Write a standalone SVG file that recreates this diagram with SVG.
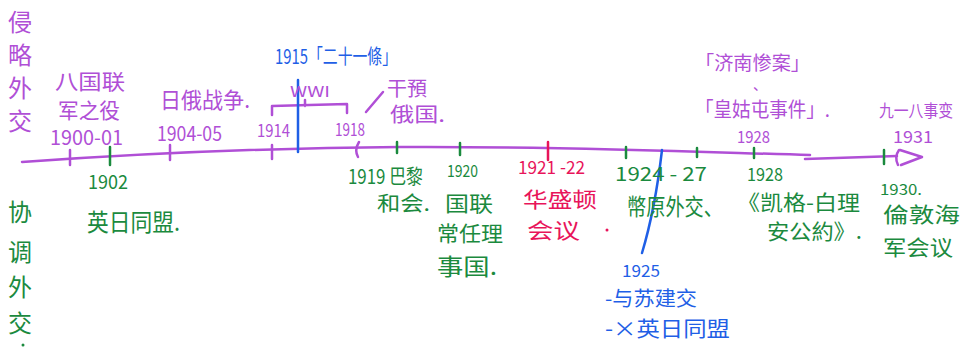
<svg xmlns="http://www.w3.org/2000/svg" width="965" height="349" viewBox="0 0 965 349">
<style>
text{font-family:"Noto Sans CJK SC","Noto Sans",sans-serif;}
.p{fill:#b04fd6}.g{fill:#1b8a3e}.b{fill:#1f5fe6}.r{fill:#e8145a}
.lp{stroke:#b04fd6;stroke-width:2.5;fill:none;stroke-linecap:round;stroke-linejoin:round}
.lg{stroke:#1b8a3e;stroke-width:2.5;fill:none;stroke-linecap:round}
.lb{stroke:#1f5fe6;stroke-width:2.5;fill:none;stroke-linecap:round}
.lr{stroke:#e8145a;stroke-width:2.5;fill:none;stroke-linecap:round}
</style>
<rect width="965" height="349" fill="#fff"/>
<g id="connectors">
<path class="lp" d="M22,162 C120,155 250,148 400,147 S700,152 810,155"/>
<path class="lp" d="M805,159 L897,156"/>
<path class="lp" d="M900,150 L922,157 L901,165"/>
<path class="lp" d="M899,150 Q894,157 898,165"/>
<path class="lp" d="M70,150 L70,165 M170,145 L170,160 M272,145 L272,159 M359,142 Q354,150 358,157"/>
<path class="lg" d="M110,147 L110,165 M397,142 L397,153 M460,143 L460,155 M626,147 L626,158 M697,148 L697,157 M754,148 L754,158 M884,150 L884,164"/>
<path class="lr" d="M548,142 L548,160"/>
<path class="lp" d="M272,115 L272,106 L347,104 L347,113 M305,100 L305,106"/>
<path class="lp" d="M366,112 L383,92"/>
<path class="lb" d="M298,80 L298,152"/>
<path class="lb" d="M662,150 Q655,210 642,253"/>
</g>
<g id="aggressive" class="p" font-size="24">
<text x="8" y="31">侵</text><text x="8" y="64">略</text><text x="8" y="97">外</text><text x="8" y="130">交</text>
</g>
<g id="cooperative" class="g" font-size="24">
<text x="8" y="221">协</text><text x="8" y="261">调</text><text x="8" y="296">外</text><text x="8" y="332">交</text>
<circle cx="23" cy="345" r="1.5"/>
</g>
<g id="e1900" class="p">
<text x="55" y="89" font-size="21" textLength="70" lengthAdjust="spacingAndGlyphs">八国联</text>
<text x="58" y="118" font-size="21" textLength="62" lengthAdjust="spacingAndGlyphs">军之役</text>
<text x="50" y="145" font-size="20" textLength="73" lengthAdjust="spacingAndGlyphs">1900-01</text>
</g>
<g id="e1902" class="g">
<text x="88" y="189" font-size="19" textLength="40" lengthAdjust="spacingAndGlyphs">1902</text>
<text x="87" y="231" font-size="24" textLength="93" lengthAdjust="spacingAndGlyphs">英日同盟.</text>
</g>
<g id="e1904" class="p">
<text x="160" y="108" font-size="22" textLength="90" lengthAdjust="spacingAndGlyphs">日俄战争.</text>
<text x="157" y="141" font-size="20" textLength="65" lengthAdjust="spacingAndGlyphs">1904-05</text>
</g>
<g id="wwi" class="p">
<text x="290" y="97" font-size="15" textLength="40" lengthAdjust="spacingAndGlyphs">WWI</text>
<text x="257" y="137" font-size="18" textLength="33" lengthAdjust="spacingAndGlyphs">1914</text>
<text x="335" y="136" font-size="18" textLength="30" lengthAdjust="spacingAndGlyphs">1918</text>
</g>
<g id="e1915" class="b">
<text x="275" y="64" font-size="20" textLength="122" lengthAdjust="spacingAndGlyphs">1915「二十一條」</text>
</g>
<g id="intervene" class="p">
<text x="387" y="96" font-size="20" textLength="40" lengthAdjust="spacingAndGlyphs">干預</text>
<text x="390" y="122" font-size="20" textLength="55" lengthAdjust="spacingAndGlyphs">俄国.</text>
</g>
<g id="e1919" class="g">
<text x="348" y="184" font-size="20" textLength="75" lengthAdjust="spacingAndGlyphs">1919 巴黎</text>
<text x="377" y="211" font-size="20" textLength="53" lengthAdjust="spacingAndGlyphs">和会.</text>
</g>
<g id="e1920" class="g">
<text x="447" y="177" font-size="17" textLength="31" lengthAdjust="spacingAndGlyphs">1920</text>
<text x="445" y="211" font-size="21" textLength="48" lengthAdjust="spacingAndGlyphs">国联</text>
<text x="437" y="241" font-size="21" textLength="66" lengthAdjust="spacingAndGlyphs">常任理</text>
<text x="437" y="275" font-size="23" textLength="60" lengthAdjust="spacingAndGlyphs">事国.</text>
</g>
<g id="e1921" class="r">
<text x="518" y="174" font-size="18" textLength="67" lengthAdjust="spacingAndGlyphs">1921 -22</text>
<text x="523" y="207" font-size="21" textLength="74" lengthAdjust="spacingAndGlyphs">华盛顿</text>
<text x="527" y="238" font-size="21" textLength="53" lengthAdjust="spacingAndGlyphs">会议</text>
<circle cx="607" cy="230" r="1.5"/>
</g>
<g id="e1924" class="g">
<text x="615" y="181" font-size="19" textLength="92" lengthAdjust="spacingAndGlyphs">1924 - 27</text>
<text x="627" y="215" font-size="23" textLength="96" lengthAdjust="spacingAndGlyphs">幣原外交、</text>
</g>
<g id="e1925" class="b">
<text x="622" y="277" font-size="17" textLength="38" lengthAdjust="spacingAndGlyphs">1925</text>
<text x="605" y="306" font-size="20" textLength="92" lengthAdjust="spacingAndGlyphs">-与苏建交</text>
<text x="605" y="336" font-size="21" textLength="125" lengthAdjust="spacingAndGlyphs">-×英日同盟</text>
</g>
<g id="e1928a" class="p">
<text x="695" y="70" font-size="19" textLength="115" lengthAdjust="spacingAndGlyphs">「济南惨案」</text>
<text x="753" y="90" font-size="14">、</text>
<text x="695" y="117" font-size="20" textLength="135" lengthAdjust="spacingAndGlyphs">「皇姑屯事件」.</text>
<text x="737" y="143" font-size="17" textLength="33" lengthAdjust="spacingAndGlyphs">1928</text>
</g>
<g id="e1928b" class="g">
<text x="747" y="181" font-size="18" textLength="36" lengthAdjust="spacingAndGlyphs">1928</text>
<text x="737" y="210" font-size="21" textLength="123" lengthAdjust="spacingAndGlyphs">《凯格-白理</text>
<text x="767" y="239" font-size="21" textLength="95" lengthAdjust="spacingAndGlyphs">安公約》.</text>
</g>
<g id="e1930" class="g">
<text x="880" y="195" font-size="15" textLength="42" lengthAdjust="spacingAndGlyphs">1930.</text>
<text x="883" y="222" font-size="21" textLength="77" lengthAdjust="spacingAndGlyphs">倫敦海</text>
<text x="883" y="255" font-size="21" textLength="70" lengthAdjust="spacingAndGlyphs">军会议</text>
</g>
<g id="e1931" class="p">
<text x="879" y="117" font-size="17" textLength="74" lengthAdjust="spacingAndGlyphs">九一八事变</text>
<text x="893" y="143" font-size="17" textLength="40" lengthAdjust="spacingAndGlyphs">1931</text>
</g>
</svg>
